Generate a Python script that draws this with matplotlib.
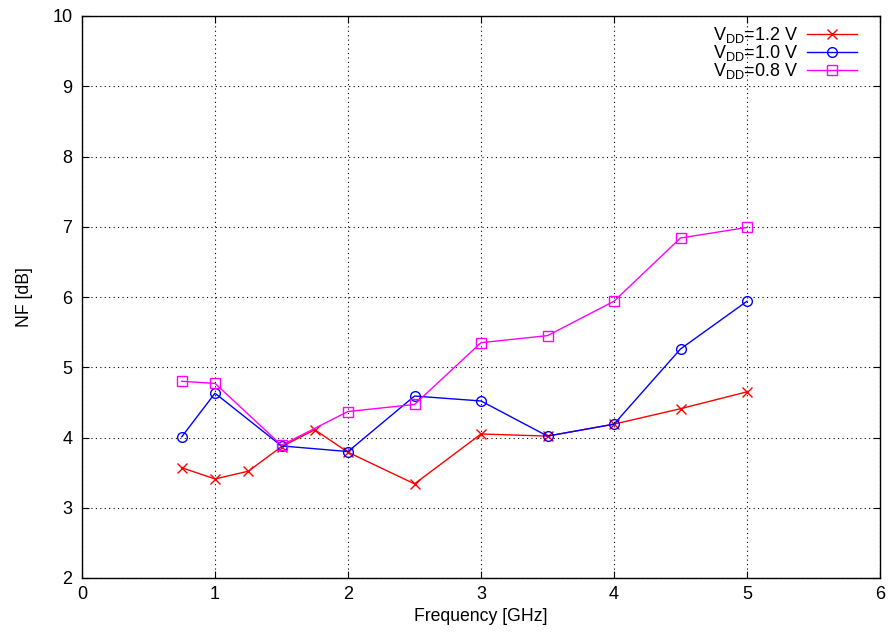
import matplotlib
matplotlib.use("Agg")
import matplotlib.pyplot as plt

plt.rcParams['font.family'] = ['Liberation Sans', 'DejaVu Sans']
plt.rcParams['mathtext.fontset'] = 'custom'
plt.rcParams['mathtext.rm'] = 'Liberation Sans'
plt.rcParams['mathtext.it'] = 'Liberation Sans'

freq_12 = [0.75, 1.0, 1.25, 1.5, 1.75, 2.0, 2.5, 3.0, 3.5, 4.0, 4.5, 5.0]
nf_12 = [3.57, 3.41, 3.52, 3.87, 4.11, 3.79, 3.34, 4.05, 4.02, 4.19, 4.41, 4.65]

freq_10 = [0.75, 1.0, 1.5, 2.0, 2.5, 3.0, 3.5, 4.0, 4.5, 5.0]
nf_10 = [4.01, 4.63, 3.88, 3.80, 4.59, 4.52, 4.02, 4.19, 5.26, 5.94]

freq_08 = [0.75, 1.0, 1.5, 2.0, 2.5, 3.0, 3.5, 4.0, 4.5, 5.0]
nf_08 = [4.80, 4.77, 3.89, 4.37, 4.47, 5.35, 5.45, 5.94, 6.84, 6.99]

labels = [r'V$_{\rm DD}$=1.2 V', r'V$_{\rm DD}$=1.0 V', r'V$_{\rm DD}$=0.8 V']
x_ticks = [0, 1, 2, 3, 4, 5, 6]
y_ticks = [2, 3, 4, 5, 6, 7, 8, 9, 10]

fig = plt.figure(figsize=(8.89, 6.37), dpi=100)
ax = fig.add_axes([82/889, 1-578/637, (880-82)/889, (578-16)/637])

ax.plot(freq_12, nf_12, color='#ff0000', marker='x', markersize=7, lw=1, mew=1, label=labels[0])
ax.plot(freq_10, nf_10, color='#0000ff', marker='o', markersize=7, lw=1, mew=1, mfc='none', label=labels[1])
ax.plot(freq_08, nf_08, color='#ff00ff', marker='s', markersize=7, lw=1, mew=1, mfc='none', label=labels[2])

ax.set_xlim(0, 6)
ax.set_ylim(2, 10)
ax.set_xticks(x_ticks)
ax.set_yticks(y_ticks)
ax.tick_params(direction='in', top=True, right=True, labelsize=13, length=5, width=0.8)
ax.tick_params(axis='x', pad=5.5)
ax.tick_params(axis='y', pad=7)
ax.grid(True, linestyle=(0, (1, 3)), color='black', linewidth=0.8)
for s in ax.spines.values():
    s.set_linewidth(1)

ax.set_xlabel('Frequency [GHz]', fontsize=12.7, labelpad=4)
ax.set_ylabel('NF [dB]', fontsize=12.7, labelpad=14)

leg = ax.legend(loc='upper right', bbox_to_anchor=(1 - 12/798, 1 + 2/562), frameon=False,
                markerfirst=False, fontsize=13, handlelength=2.8, labelspacing=-0.1,
                handletextpad=0.45, borderaxespad=0.2)

fig.savefig('out.png', dpi=100)
